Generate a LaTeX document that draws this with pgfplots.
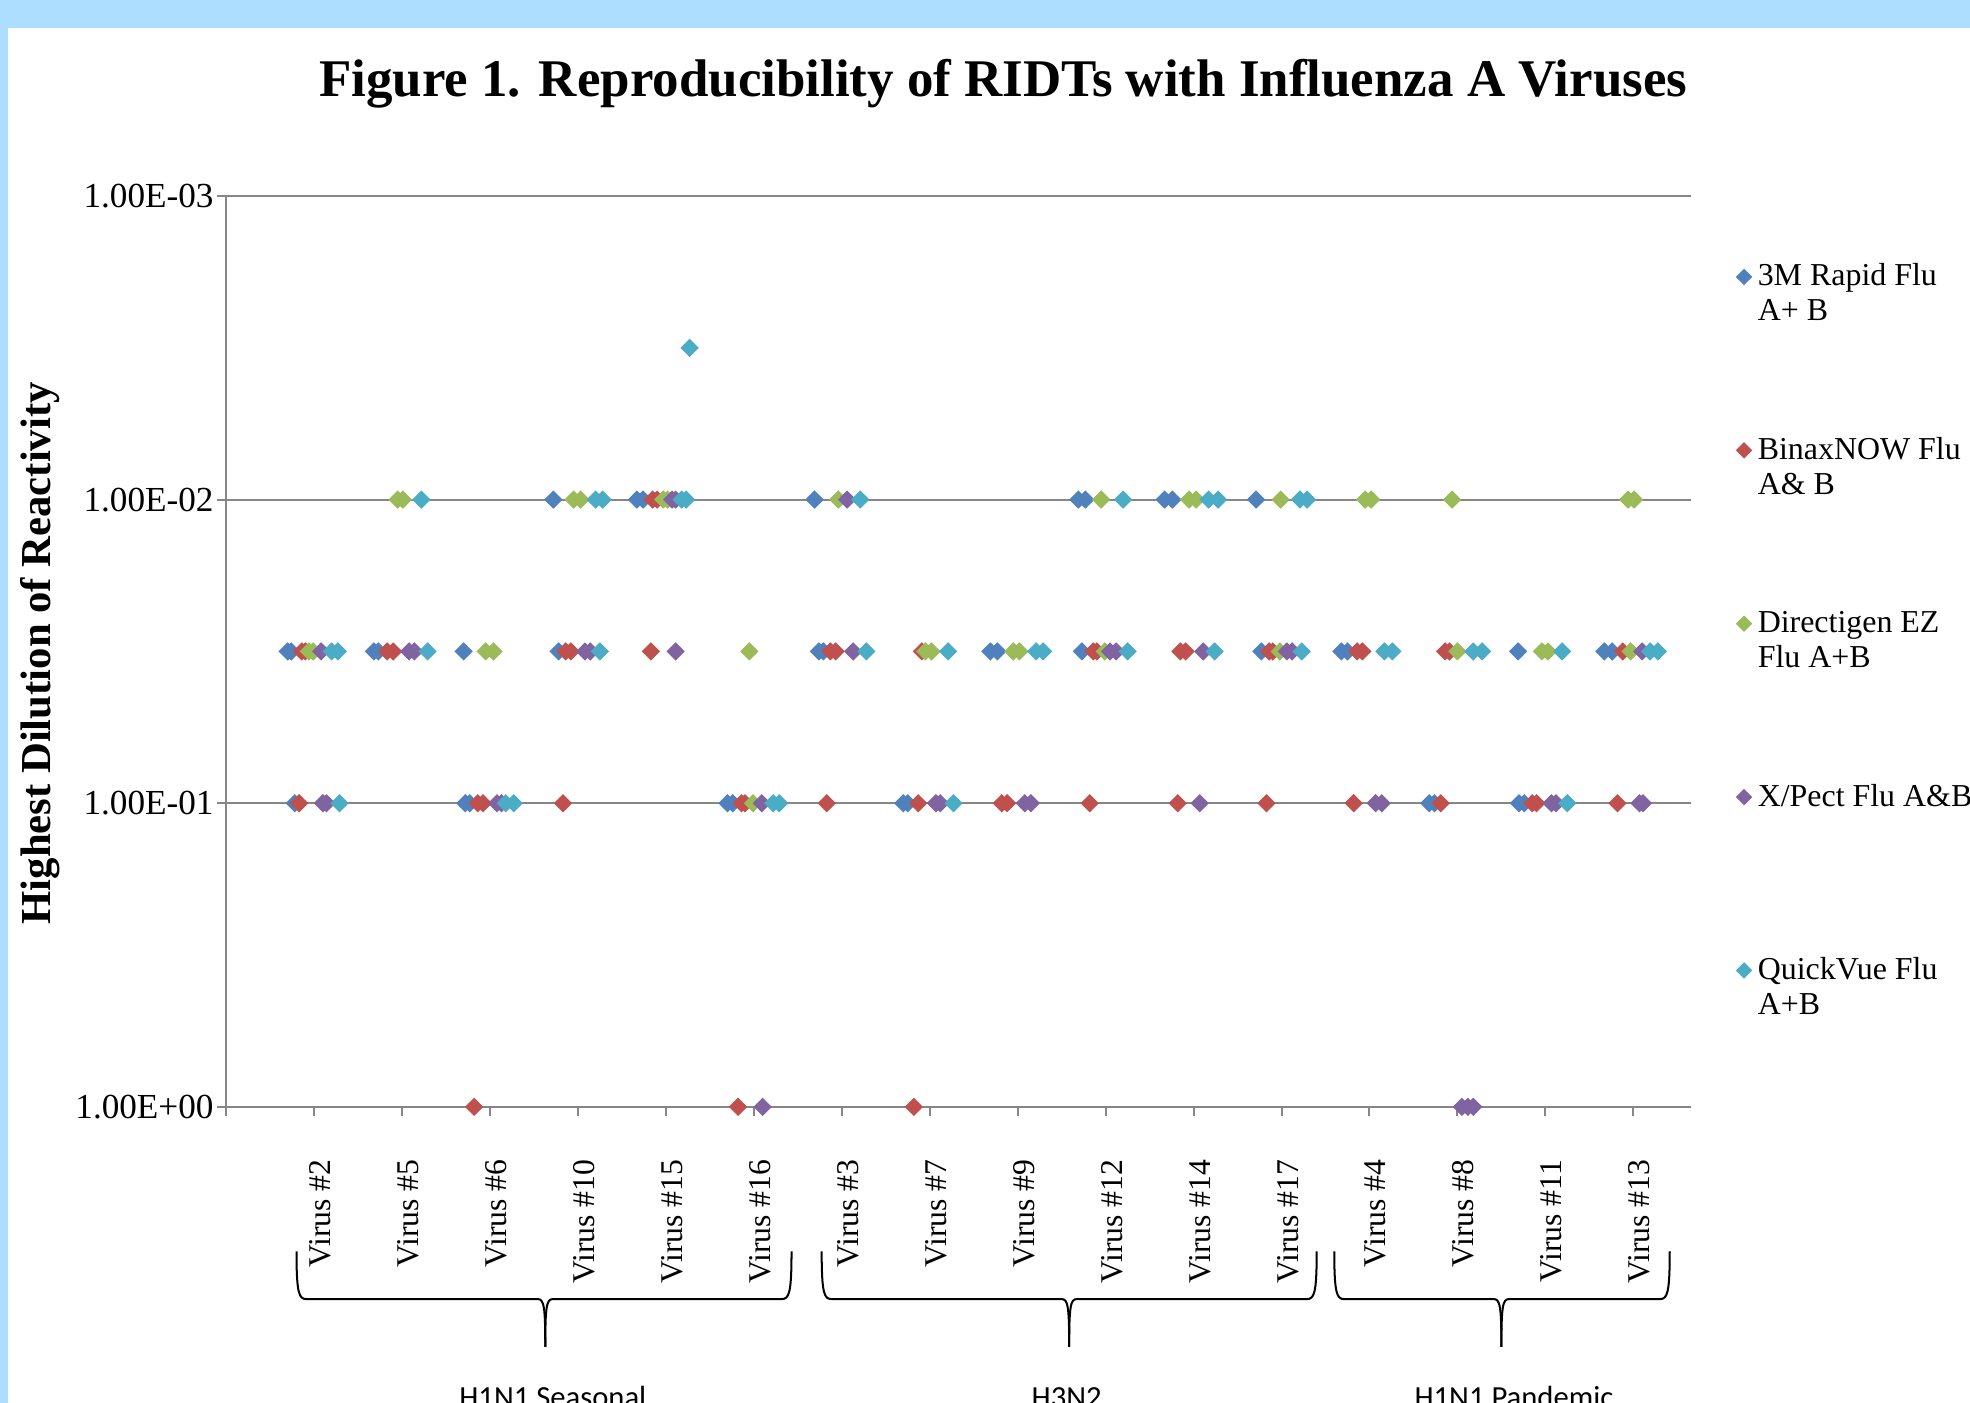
\documentclass[border=0pt]{standalone}
\usepackage{pgfplots}
\pgfplotsset{compat=1.18}
\usepackage{fontspec}
\setmainfont{Liberation Serif}
\newfontfamily\calibri{Carlito}
\definecolor{sBlue}{HTML}{4F81BD}
\definecolor{sRed}{HTML}{C0504D}
\definecolor{sGreen}{HTML}{9BBB59}
\definecolor{sPurple}{HTML}{8064A2}
\definecolor{sCyan}{HTML}{4BACC6}
\definecolor{bgblue}{HTML}{ADDEFF}
\definecolor{gridgray}{HTML}{868686}
\newcommand{\ls}{\rule[-4.3pt]{0pt}{13.8pt}}
\pgfplotsset{
  ser/.style={only marks, mark=square*, mark size=2.37pt,
    mark options={rotate=45, draw=#1, fill=#1}},
}
\begin{document}
\begin{tikzpicture}
\useasboundingbox (-90pt,-117.85pt) rectangle (694pt,440.5pt);
\clip (-90pt,-117.85pt) rectangle (694pt,440.5pt);
\begin{scope}[x=0.5pt,y=-0.5pt,shift={(-90pt,440.5pt)}]
  \fill[bgblue] (0,0) rectangle (1568,1117);
  \fill[white] (6,22) rectangle (1568,1117);
\end{scope}
\begin{axis}[
  at={(0pt,0pt)}, anchor=south west,
  scale only axis, width=583pt, height=362.5pt,
  xmin=0, xmax=16.657,
  ymode=log, ymin=0.001, ymax=1, y dir=reverse,
  ytick={1,0.1,0.01,0.001},
  yticklabels={1.00E+00,1.00E-01,1.00E-02,1.00E-03},
  yminorticks=false,
  xtick={0,...,16},
  xticklabels={,Virus \#2,Virus \#5,Virus \#6,Virus \#10,Virus \#15,Virus \#16,Virus \#3,Virus \#7,Virus \#9,Virus \#12,Virus \#14,Virus \#17,Virus \#4,Virus \#8,Virus \#11,Virus \#13},
  xticklabel style={xshift=2.5pt, rotate=90, anchor=east, font=\fontsize{12.6}{14}\selectfont},
  xticklabel shift=14pt,
  yticklabel style={xshift=2pt, font=\fontsize{14}{16}\selectfont},
  tick align=outside, major tick length=3.5pt,
  ytick pos=left,
  xtick style={draw=none},
  ymajorgrids, grid style={gridgray, line width=0.8pt},
  axis line style={draw=none},
  ytick style={gridgray, line width=0.8pt},
  clip=false,
  legend style={at={(1.0307,0.928)}, anchor=north west, draw=none, fill=none,
    inner sep=0pt, row sep=0pt, font=\fontsize{12.7}{13.8}\selectfont,
    nodes={inner xsep=2.5pt, inner ysep=0pt, text height=9.5pt, text depth=4.3pt}},
  legend cell align=left,
  legend image code/.code={\draw[#1, mark size=2.1pt] plot coordinates {(0pt,1pt)};},
]
\draw[gridgray, line width=0.8pt] (rel axis cs:0,0) -- (rel axis cs:0,1);
\pgfplotsinvokeforeach{0,...,16}{\draw[gridgray, line width=0.8pt] (axis cs:#1,1) -- ++(0pt,-3.5pt);}
\addplot[ser=sBlue] coordinates {
(3.72,0.01)(4.67,0.01)(4.74,0.01)(6.69,0.01)(9.69,0.01)(9.77,0.01)(10.67,0.01)(10.76,0.01)(11.71,0.01)
(0.70,0.0316228)(0.74,0.0316228)(1.68,0.0316228)(1.73,0.0316228)(2.70,0.0316228)(3.78,0.0316228)(6.74,0.0316228)(6.79,0.0316228)(8.69,0.0316228)(8.77,0.0316228)(9.73,0.0316228)(11.77,0.0316228)(12.68,0.0316228)(12.75,0.0316228)(14.69,0.0316228)(15.67,0.0316228)(15.76,0.0316228)
(0.78,0.1)(2.72,0.1)(2.77,0.1)(5.70,0.1)(5.76,0.1)(7.70,0.1)(7.75,0.1)(13.68,0.1)(13.74,0.1)(14.70,0.1)(14.76,0.1)
};
\addlegendentry{\ls 3M Rapid Flu}
\addlegendimage{empty legend}\addlegendentry{\ls A+ B}
\addlegendimage{empty legend}\addlegendentry{\ls}
\addlegendimage{empty legend}\addlegendentry{\ls}
\addlegendimage{empty legend}\addlegendentry{\ls}
\addplot[ser=sRed] coordinates {
(4.85,0.01)(4.90,0.01)
(0.86,0.0316228)(0.90,0.0316228)(1.83,0.0316228)(1.90,0.0316228)(3.86,0.0316228)(3.92,0.0316228)(4.83,0.0316228)(6.87,0.0316228)(6.93,0.0316228)(7.91,0.0316228)(9.86,0.0316228)(9.90,0.0316228)(10.85,0.0316228)(10.91,0.0316228)(11.86,0.0316228)(11.90,0.0316228)(12.86,0.0316228)(12.92,0.0316228)(13.86,0.0316228)(13.91,0.0316228)(15.88,0.0316228)
(0.83,0.1)(2.86,0.1)(2.92,0.1)(3.83,0.1)(5.86,0.1)(5.90,0.1)(6.83,0.1)(7.87,0.1)(8.82,0.1)(8.88,0.1)(9.82,0.1)(10.82,0.1)(11.83,0.1)(12.82,0.1)(13.81,0.1)(14.85,0.1)(14.90,0.1)(15.82,0.1)
(2.82,1)(5.82,1)(7.82,1)
};
\addlegendentry{\ls BinaxNOW Flu}
\addlegendimage{empty legend}\addlegendentry{\ls A\& B}
\addlegendimage{empty legend}\addlegendentry{\ls}
\addlegendimage{empty legend}\addlegendentry{\ls}
\addlegendimage{empty legend}\addlegendentry{\ls}
\addplot[ser=sGreen] coordinates {
(1.95,0.01)(2.01,0.01)(3.95,0.01)(4.03,0.01)(4.97,0.01)(5.02,0.01)(6.96,0.01)(9.95,0.01)(10.95,0.01)(11.03,0.01)(11.99,0.01)(12.95,0.01)(13.02,0.01)(13.94,0.01)(15.94,0.01)(16.01,0.01)
(0.94,0.0316228)(0.99,0.0316228)(2.95,0.0316228)(3.04,0.0316228)(5.95,0.0316228)(7.95,0.0316228)(8.02,0.0316228)(8.95,0.0316228)(9.02,0.0316228)(9.99,0.0316228)(11.98,0.0316228)(14.00,0.0316228)(14.96,0.0316228)(15.03,0.0316228)(15.97,0.0316228)
(5.99,0.1)
};
\addlegendentry{\ls Directigen EZ}
\addlegendimage{empty legend}\addlegendentry{\ls Flu A+B}
\addlegendimage{empty legend}\addlegendentry{\ls}
\addlegendimage{empty legend}\addlegendentry{\ls}
\addlegendimage{empty legend}\addlegendentry{\ls}
\addplot[ser=sPurple] coordinates {
(5.07,0.01)(5.11,0.01)(7.06,0.01)
(1.08,0.0316228)(2.08,0.0316228)(2.14,0.0316228)(4.08,0.0316228)(4.14,0.0316228)(5.11,0.0316228)(7.13,0.0316228)(10.05,0.0316228)(10.12,0.0316228)(11.11,0.0316228)(12.06,0.0316228)(12.12,0.0316228)(16.10,0.0316228)
(1.10,0.1)(1.14,0.1)(3.08,0.1)(3.13,0.1)(6.09,0.1)(8.07,0.1)(8.12,0.1)(9.08,0.1)(9.15,0.1)(11.07,0.1)(13.07,0.1)(13.14,0.1)(15.07,0.1)(15.12,0.1)(16.07,0.1)(16.11,0.1)
(6.10,1)(14.05,1)(14.12,1)(14.18,1)
};
\addlegendentry{\ls X/Pect Flu A\&B}
\addlegendimage{empty legend}\addlegendentry{\ls}
\addlegendimage{empty legend}\addlegendentry{\ls}
\addlegendimage{empty legend}\addlegendentry{\ls}
\addlegendimage{empty legend}\addlegendentry{\ls}
\addplot[ser=sCyan] coordinates {
(2.22,0.01)(4.20,0.01)(4.28,0.01)(5.18,0.01)(5.23,0.01)(7.21,0.01)(10.20,0.01)(11.17,0.01)(11.28,0.01)(12.21,0.01)(12.29,0.01)
(5.27,0.00316228)
(1.20,0.0316228)(1.27,0.0316228)(2.29,0.0316228)(4.25,0.0316228)(7.28,0.0316228)(8.21,0.0316228)(9.21,0.0316228)(9.29,0.0316228)(10.25,0.0316228)(11.24,0.0316228)(12.23,0.0316228)(13.17,0.0316228)(13.26,0.0316228)(14.18,0.0316228)(14.28,0.0316228)(15.19,0.0316228)(16.19,0.0316228)(16.28,0.0316228)
(1.29,0.1)(3.18,0.1)(3.27,0.1)(6.22,0.1)(6.29,0.1)(8.27,0.1)(15.25,0.1)
};
\addlegendentry{\ls QuickVue Flu}
\addlegendimage{empty legend}\addlegendentry{\ls A+B}
\end{axis}
\begin{scope}[x=0.5pt,y=-0.5pt,shift={(-90pt,440.5pt)}]
  \node[font=\bfseries\fontsize{21.07}{25}\selectfont] at (798.5,67) {Figure 1. Reproducibility of RIDTs with Influenza A Viruses};
  \node[rotate=90, font=\bfseries\fontsize{17}{20}\selectfont] at (32,520) {Highest Dilution of Reactivity};
  \foreach \xa/\xb/\xt in {236/630/434, 654/1048/851, 1062/1329/1195} {
    \draw[black, line width=0.8pt] (\xa,996) .. controls (\xa,1030) and (\xa+2,1034) .. (\xa+8,1034) -- (\xt-6,1034) .. controls (\xt-1,1034) and (\xt,1040) .. (\xt,1072);
    \draw[black, line width=0.8pt] (\xt,1072) .. controls (\xt,1040) and (\xt+1,1034) .. (\xt+6,1034) -- (\xb-8,1034) .. controls (\xb-2,1034) and (\xb,1030) .. (\xb,996);
  }
  \node[font=\calibri\fontsize{12.2}{14}\selectfont, anchor=base] at (440,1120) {H1N1 Seasonal};
  \node[font=\calibri\fontsize{12.2}{14}\selectfont, anchor=base] at (849,1120) {H3N2};
  \node[font=\calibri\fontsize{12.2}{14}\selectfont, anchor=base] at (1205,1120) {H1N1 Pandemic};
\end{scope}
\end{tikzpicture}
\end{document}
